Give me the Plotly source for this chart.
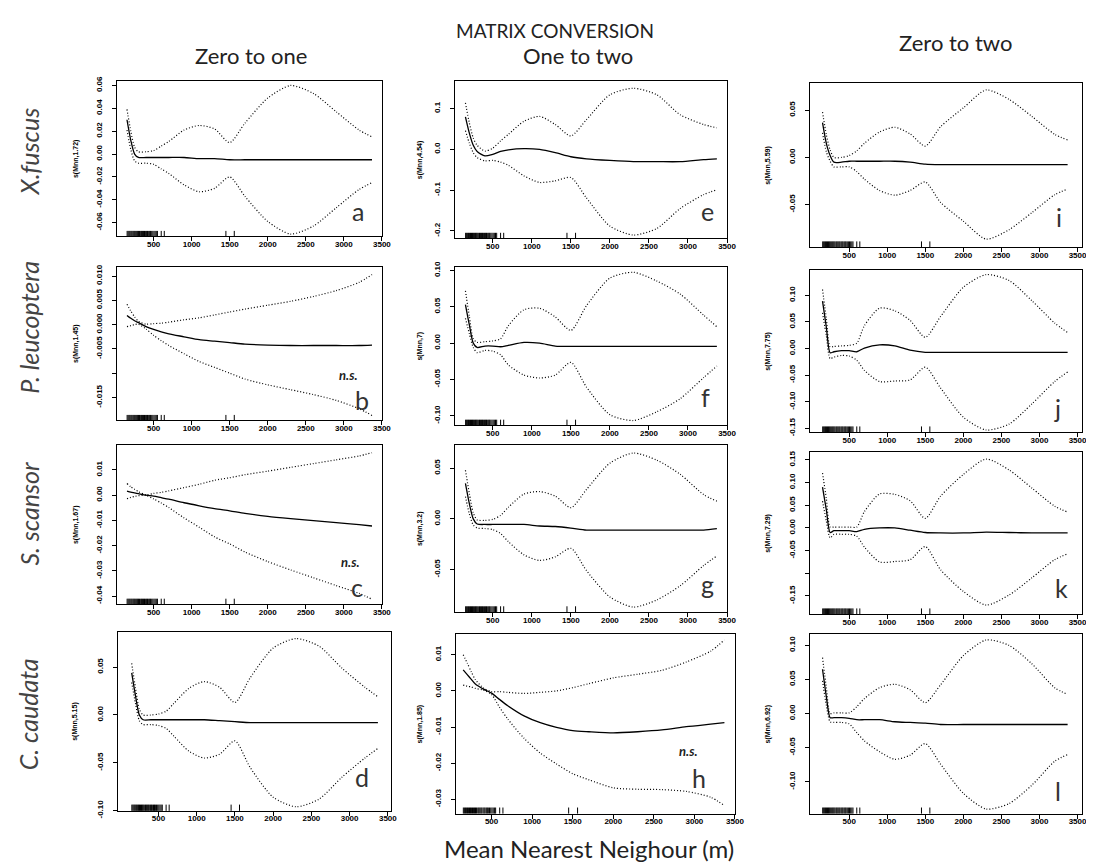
import plotly.graph_objects as go

W, H = 1094, 864

# ---------------- data ----------------
X_GRID = [150, 200, 250, 300, 400, 500, 600, 700, 900, 1100, 1300, 1500, 1700, 2000, 2300, 2600, 2900, 3200, 3370]
RUG_X = [152, 165, 178, 190, 203, 215, 228, 240, 252, 265, 278, 290, 302, 315, 330, 342, 355, 368, 380,
         395, 408, 420, 435, 448, 460, 475, 490, 505, 520, 535, 550, 600, 640, 1450, 1560]
X_TICKS = [500, 1000, 1500, 2000, 2500, 3000, 3500]
X_TICK_LABELS = ["500", "1000", "1500", "2000", "2500", "3000", "3500"]

# fitted smooth and half-width of the confidence band (fit +/- band)
FIT_A = [0.030, 0.012, 0.000, -0.003, -0.003, -0.003, -0.003, -0.003, -0.003, -0.004, -0.004, -0.005, -0.005, -0.005, -0.005, -0.005, -0.005, -0.005, -0.005]
BAND_A = [0.009, 0.008, 0.006, 0.005, 0.005, 0.006, 0.010, 0.014, 0.024, 0.029, 0.026, 0.015, 0.032, 0.054, 0.065, 0.058, 0.042, 0.026, 0.020]

FIT_B = [0.0019, 0.0013, 0.0008, 0.0004, -0.0004, -0.0010, -0.0015, -0.0019, -0.0025, -0.0031, -0.0034, -0.0037, -0.0040, -0.0042, -0.0043, -0.0043, -0.0043, -0.0043, -0.0042]
BAND_B = [0.0023, 0.0015, 0.0008, 0.0003, 0.0005, 0.0012, 0.0018, 0.0024, 0.0035, 0.0045, 0.0054, 0.0063, 0.0072, 0.0082, 0.0091, 0.0101, 0.0113, 0.0130, 0.0145]

FIT_C = [0.0016, 0.0012, 0.0009, 0.0006, 0.0000, -0.0004, -0.0010, -0.0016, -0.0030, -0.0042, -0.0053, -0.0062, -0.0072, -0.0084, -0.0093, -0.0101, -0.0109, -0.0117, -0.0122]
BAND_C = [0.0030, 0.0021, 0.0014, 0.0008, 0.0001, 0.0011, 0.0021, 0.0033, 0.0060, 0.0085, 0.0112, 0.0131, 0.0153, 0.0179, 0.0203, 0.0226, 0.0249, 0.0272, 0.0290]

FIT_D = [0.044, 0.020, 0.000, -0.005, -0.005, -0.005, -0.005, -0.005, -0.005, -0.005, -0.006, -0.007, -0.008, -0.008, -0.008, -0.008, -0.008, -0.008, -0.008]
BAND_D = [0.010, 0.008, 0.006, 0.005, 0.005, 0.006, 0.009, 0.017, 0.033, 0.040, 0.035, 0.020, 0.047, 0.078, 0.088, 0.080, 0.057, 0.037, 0.027]

FIT_E = [0.080, 0.040, 0.010, -0.005, -0.016, -0.012, -0.005, -0.001, 0.002, 0.000, -0.008, -0.018, -0.023, -0.027, -0.030, -0.030, -0.030, -0.025, -0.023]
BAND_E = [0.034, 0.025, 0.018, 0.015, 0.012, 0.015, 0.026, 0.038, 0.067, 0.081, 0.069, 0.051, 0.096, 0.161, 0.180, 0.164, 0.115, 0.086, 0.076]

FIT_F = [0.053, 0.025, 0.000, -0.006, -0.004, -0.004, -0.005, -0.003, 0.001, 0.000, -0.004, -0.0045, -0.0045, -0.0045, -0.0045, -0.0045, -0.0045, -0.0045, -0.0045]
BAND_F = [0.019, 0.012, 0.006, 0.007, 0.006, 0.007, 0.011, 0.027, 0.045, 0.048, 0.040, 0.022, 0.056, 0.094, 0.102, 0.090, 0.072, 0.043, 0.027]

FIT_G = [0.035, 0.015, 0.000, -0.005, -0.0055, -0.0055, -0.0055, -0.0055, -0.0055, -0.007, -0.0075, -0.009, -0.011, -0.011, -0.011, -0.011, -0.011, -0.011, -0.0095]
BAND_G = [0.013, 0.010, 0.006, 0.004, 0.004, 0.005, 0.009, 0.017, 0.030, 0.034, 0.030, 0.020, 0.040, 0.066, 0.076, 0.069, 0.055, 0.035, 0.027]

FIT_H = [0.0058, 0.0045, 0.0032, 0.0019, 0.0005, -0.0006, -0.0024, -0.0041, -0.0069, -0.0088, -0.0101, -0.0110, -0.0113, -0.0116, -0.0113, -0.0108, -0.0099, -0.0092, -0.0088]
BAND_H = [0.0042, 0.0032, 0.0021, 0.0012, 0.0003, 0.0004, 0.0022, 0.0037, 0.0062, 0.0084, 0.0101, 0.0119, 0.0133, 0.0152, 0.0159, 0.0165, 0.0179, 0.0202, 0.0229]

FIT_I = [0.037, 0.015, 0.002, -0.005, -0.005, -0.004, -0.004, -0.004, -0.004, -0.004, -0.005, -0.007, -0.0075, -0.0075, -0.0075, -0.0075, -0.0075, -0.0075, -0.0075]
BAND_I = [0.011, 0.009, 0.006, 0.005, 0.005, 0.006, 0.011, 0.019, 0.031, 0.036, 0.030, 0.019, 0.040, 0.060, 0.079, 0.069, 0.051, 0.032, 0.026]

FIT_J = [0.089, 0.040, -0.008, -0.006, -0.004, -0.004, -0.006, 0.001, 0.007, 0.005, -0.003, -0.007, -0.007, -0.007, -0.007, -0.007, -0.007, -0.007, -0.007]
BAND_J = [0.022, 0.016, 0.011, 0.010, 0.009, 0.010, 0.016, 0.042, 0.069, 0.066, 0.056, 0.028, 0.067, 0.122, 0.146, 0.135, 0.097, 0.055, 0.037]

FIT_K = [0.090, 0.040, -0.010, -0.006, -0.006, -0.006, -0.008, -0.003, 0.000, 0.000, -0.005, -0.010, -0.011, -0.011, -0.009, -0.010, -0.011, -0.011, -0.011]
BAND_K = [0.031, 0.025, 0.012, 0.008, 0.008, 0.008, 0.010, 0.039, 0.075, 0.074, 0.065, 0.031, 0.081, 0.129, 0.161, 0.138, 0.099, 0.059, 0.046]

FIT_L = [0.065, 0.025, -0.006, -0.006, -0.006, -0.007, -0.009, -0.009, -0.009, -0.012, -0.013, -0.014, -0.016, -0.016, -0.016, -0.016, -0.016, -0.016, -0.016]
BAND_L = [0.017, 0.013, 0.006, 0.007, 0.007, 0.008, 0.019, 0.031, 0.047, 0.055, 0.048, 0.030, 0.058, 0.101, 0.124, 0.116, 0.089, 0.054, 0.044]

# y tick values / labels per panel
YT_A = [0.06, 0.04, 0.02, 0.0, -0.02, -0.04, -0.06]
YL_A = ["0.06", "0.04", "0.02", "0.00", "-0.02", "-0.04", "-0.06"]
YT_B = [0.010, 0.005, 0.0, -0.005, -0.010, -0.015]
YL_B = ["0.010", "0.005", "0.000", "-0.005", "", "-0.015"]
YT_C = [0.01, 0.0, -0.01, -0.02, -0.03, -0.04]
YL_C = ["0.01", "0.00", "-0.01", "-0.02", "-0.03", "-0.04"]
YT_D = [0.05, 0.0, -0.05, -0.10]
YL_D = ["0.05", "0.00", "-0.05", "-0.10"]
YT_E = [0.1, 0.0, -0.1, -0.2]
YL_E = ["0.1", "0.0", "-0.1", "-0.2"]
YT_F = [0.10, 0.05, 0.0, -0.05, -0.10]
YL_F = ["0.10", "0.05", "0.00", "-0.05", "-0.10"]
YT_G = [0.05, 0.0, -0.05]
YL_G = ["0.05", "0.00", "-0.05"]
YT_H = [0.01, 0.0, -0.01, -0.02, -0.03]
YL_H = ["0.01", "0.00", "-0.01", "-0.02", "-0.03"]
YT_I = [0.05, 0.0, -0.05]
YL_I = ["0.05", "0.00", "-0.05"]
YT_J = [0.10, 0.05, 0.0, -0.05, -0.10, -0.15]
YL_J = ["0.10", "0.05", "0.00", "-0.05", "-0.10", "-0.15"]
YT_K = [0.15, 0.10, 0.05, 0.0, -0.05, -0.10, -0.15]
YL_K = ["0.15", "0.10", "0.05", "0.00", "-0.05", "", "-0.15"]
YT_L = [0.10, 0.05, 0.0, -0.05, -0.10]
YL_L = ["0.10", "0.05", "0.00", "-0.05", "-0.10"]

Y_TITLES = ["s(Mnn,1.72)", "s(Mnn,1.45)", "s(Mnn,1.67)", "s(Mnn,5.15)",
            "s(Mnn,4.54)", "s(Mnn,7)", "s(Mnn,3.2)", "s(Mnn,1.85)",
            "s(Mnn,5.59)", "s(Mnn,7.75)", "s(Mnn,7.29)", "s(Mnn,6.92)"]
PANEL_LETTERS = ["a", "b", "c", "d", "e", "f", "g", "h", "i", "j", "k", "l"]
NOT_SIGNIFICANT = ["b", "c", "h"]
SPECIES = ["X.fuscus", "P. leucoptera", "S. scansor", "C. caudata"]
COLUMN_TITLES = ["Zero to one", "One to two", "Zero to two"]

# ---------------- layout spec (pixel boxes, axis ranges) ----------------
R1 = [20, 3500]
R1D = [-28, 3539]
R2H = [65, 3500]
R3 = [-10, 3560]
PANELS = [
    # fit, band, yticks, ylabels, yrange, xrange, box(x0,x1,y0,y1), letter pos
    (FIT_A, BAND_A, YT_A, YL_A, [-0.072, 0.064], R1, (110, 377, 68, 226), (353, 200)),
    (FIT_B, BAND_B, YT_B, YL_B, [-0.0197, 0.0119], R1, (110, 377, 257, 413), (357, 392)),
    (FIT_C, BAND_C, YT_C, YL_C, [-0.0432, 0.0199], R1, (110, 377, 438, 600), (352, 582)),
    (FIT_D, BAND_D, YT_D, YL_D, [-0.1003, 0.087], R1D, (111, 386, 628, 810), (357, 776)),
    (FIT_E, BAND_E, YT_E, YL_E, [-0.218, 0.168], R1, (451, 725, 68, 228), (705, 200)),
    (FIT_F, BAND_F, YT_F, YL_F, [-0.113, 0.105], R1, (451, 725, 257, 418), (703, 389)),
    (FIT_G, BAND_G, YT_G, YL_G, [-0.092, 0.073], R1, (451, 725, 438, 608), (705, 579)),
    (FIT_H, BAND_H, YT_H, YL_H, [-0.034, 0.0158], R2H, (452, 733, 630, 813), (697, 777)),
    (FIT_I, BAND_I, YT_I, YL_I, [-0.095, 0.079], R3, (809, 1083, 70, 237), (1060, 206)),
    (FIT_J, BAND_J, YT_J, YL_J, [-0.157, 0.148], R3, (809, 1083, 260, 425), (1058, 400)),
    (FIT_K, BAND_K, YT_K, YL_K, [-0.190, 0.168], R3, (809, 1083, 445, 610), (1062, 583)),
    (FIT_L, BAND_L, YT_L, YL_L, [-0.147, 0.117], R3, (809, 1083, 630, 813), (1059, 790)),
]
NS_POS = {"b": (343, 367), "c": (345, 557), "h": (686, 749)}
YTITLE_X = [68, 68, 68, 68, 415, 415, 415, 415, 766, 766, 766, 766]

fig = go.Figure()
layout = dict(
    width=W, height=H, margin=dict(l=0, r=0, t=0, b=0),
    paper_bgcolor="white", plot_bgcolor="white", showlegend=False,
)
annotations = []
tickfont = dict(family="Liberation Sans", size=8, color="black", weight="bold")

for i, (fit, band, yt, yl, yr, xr, box, lpos) in enumerate(PANELS):
    n = i + 1
    xa = "x" if n == 1 else f"x{n}"
    ya = "y" if n == 1 else f"y{n}"
    x0, x1, y0, y1 = box
    upper = [f + b for f, b in zip(fit, band)]
    lower = [f - b for f, b in zip(fit, band)]
    line_smooth = dict(shape="spline", smoothing=0.7)
    fig.add_trace(go.Scatter(x=X_GRID, y=upper, mode="lines", xaxis=xa, yaxis=ya,
                             line=dict(color="black", width=1.2, dash="1px,2px", **line_smooth)))
    fig.add_trace(go.Scatter(x=X_GRID, y=lower, mode="lines", xaxis=xa, yaxis=ya,
                             line=dict(color="black", width=1.2, dash="1px,2px", **line_smooth)))
    fig.add_trace(go.Scatter(x=X_GRID, y=fit, mode="lines", xaxis=xa, yaxis=ya,
                             line=dict(color="black", width=1.3, **line_smooth)))
    # rug
    span = yr[1] - yr[0]
    rx, ry = [], []
    for r in RUG_X:
        rx += [r, r, None]
        ry += [yr[0], yr[0] + 0.035 * span, None]
    fig.add_trace(go.Scatter(x=rx, y=ry, mode="lines", xaxis=xa, yaxis=ya,
                             line=dict(color="black", width=1)))

    layout["xaxis" if n == 1 else f"xaxis{n}"] = dict(
        domain=[x0 / W, x1 / W], anchor=ya, range=xr,
        tickvals=X_TICKS, ticktext=X_TICK_LABELS, ticks="outside", ticklen=4,
        tickcolor="black", tickfont=tickfont, showline=True, mirror=True,
        linecolor="black", linewidth=1, showgrid=False, zeroline=False,
        ticklabelstandoff=-4,
    )
    layout["yaxis" if n == 1 else f"yaxis{n}"] = dict(
        domain=[1 - y1 / H, 1 - y0 / H], anchor=xa, range=yr,
        tickvals=yt, ticktext=yl, ticks="outside", ticklen=4, tickangle=-90,
        tickcolor="black", tickfont=tickfont, showline=True, mirror=True,
        linecolor="black", linewidth=1, showgrid=False, zeroline=False,
        ticklabelstandoff=7,
    )
    # y axis title
    annotations.append(dict(text=Y_TITLES[i], x=YTITLE_X[i] / W, y=1 - (y0 + y1) / 2 / H,
                            xref="paper", yref="paper", showarrow=False, textangle=-90,
                            font=dict(family="Liberation Sans", size=7, color="black", weight="bold"),
                            xanchor="center", yanchor="middle"))
    # panel letter
    letter = PANEL_LETTERS[i]
    annotations.append(dict(text=letter, x=lpos[0] / W, y=1 - lpos[1] / H,
                            xref="paper", yref="paper", showarrow=False,
                            font=dict(family="Lato", size=25, color="#333333"),
                            xanchor="center", yanchor="middle"))
    if letter in NOT_SIGNIFICANT:
        px, py = NS_POS[letter]
        annotations.append(dict(text="<i>n.s.</i>", x=px / W, y=1 - py / H,
                                xref="paper", yref="paper", showarrow=False,
                                font=dict(family="Lato", size=13, color="#222222", weight="bold"),
                                xanchor="center", yanchor="middle"))

# species labels (rows)
for name, yc in zip(SPECIES, [140, 318, 508, 712]):
    annotations.append(dict(text=f"<i>{name}</i>", x=21 / W, y=1 - yc / H,
                            xref="paper", yref="paper", showarrow=False, textangle=-90,
                            font=dict(family="Lato", size=25, color="#444444"),
                            xanchor="center", yanchor="middle"))

# column titles
for name, (cx, cy) in zip(COLUMN_TITLES, [(245, 42), (575, 42), (955, 29)]):
    annotations.append(dict(text=name, x=cx / W, y=1 - cy / H, xref="paper", yref="paper",
                            showarrow=False, font=dict(family="Lato", size=22, color="#222222"),
                            xanchor="center", yanchor="middle"))
annotations.append(dict(text="MATRIX CONVERSION", x=552 / W, y=1 - 17 / H, xref="paper", yref="paper",
                        showarrow=False, font=dict(family="Lato", size=19, color="#222222"),
                        xanchor="center", yanchor="middle"))
annotations.append(dict(text="Mean Nearest Neighour (m)", x=586 / W, y=1 - 848 / H, xref="paper",
                        yref="paper", showarrow=False, font=dict(family="Lato", size=24, color="#222222"),
                        xanchor="center", yanchor="middle"))

layout["annotations"] = annotations
fig.update_layout(**layout)
fig.write_html("out.html")
